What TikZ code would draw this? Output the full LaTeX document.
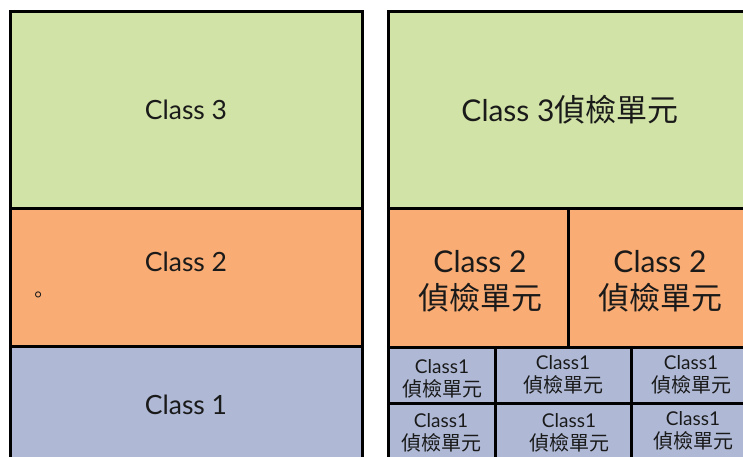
\documentclass[tikz,border=0pt]{standalone}
\usepackage{fontspec}
\setmainfont{Lato}
\newfontfamily\cjk{Noto Sans CJK TC}
\definecolor{cgreen}{HTML}{D1E3A6}
\definecolor{corange}{HTML}{F9AC74}
\definecolor{cblue}{HTML}{AFB9D6}
\definecolor{ink}{HTML}{1A1A1A}
\begin{document}
\begin{tikzpicture}[x=1pt,y=-1pt,
  cell/.style={draw=black,line width=3pt},
  lbl/.style={align=center,inner sep=0pt,text=ink},
  big/.style={font=\fontsize{26.5}{30}\selectfont},
  mid/.style={font=\fontsize{30}{37}\selectfont},
  small/.style={font=\fontsize{19}{23}\selectfont}]
\clip (0,0) rectangle (743,457);
\fill[white] (0,0) rectangle (743,457);
% left column
\path[cell,fill=cgreen] (10,12) rectangle (362,208);
\path[cell,fill=corange] (10,208) rectangle (362,346);
\path[cell,fill=cblue] (10,346) rectangle (362,470);
\node[lbl,big] (l3) at (186,110) {Class 3};
\node[lbl,big] (l2) at (186,262) {Class 2};
\node[lbl,font=\fontsize{20}{20}\selectfont] (dot) at (38,297) {\cjk 。};
\node[lbl,big] (l1) at (186,405) {Class 1};
% right column
\path[cell,fill=cgreen] (388,12) rectangle (752,208);
\path[cell,fill=corange] (388,208) rectangle (568,347);
\path[cell,fill=corange] (568,208) rectangle (752,347);
\path[cell,fill=cblue] (388,347) rectangle (495,403);
\path[cell,fill=cblue] (495,347) rectangle (631,403);
\path[cell,fill=cblue] (631,347) rectangle (752,403);
\path[cell,fill=cblue] (388,403) rectangle (495,470);
\path[cell,fill=cblue] (495,403) rectangle (631,470);
\path[cell,fill=cblue] (631,403) rectangle (752,470);
\node[lbl,mid] (r3) at (570,110) {Class 3{\fontsize{31}{37}\cjk 偵檢單元}};
\node[lbl,mid] (r2a) at (480,281) {Class 2\\{\fontsize{31}{37}\cjk 偵檢單元}};
\node[lbl,mid] (r2b) at (660,281) {Class 2\\{\fontsize{31}{37}\cjk 偵檢單元}};
\node[lbl,small] (a1) at (442,379) {Class1\\{\fontsize{20}{23}\cjk 偵檢單元}};
\node[lbl,small] (a2) at (563,375) {Class1\\{\fontsize{20}{23}\cjk 偵檢單元}};
\node[lbl,small] (a3) at (691,375) {Class1\\{\fontsize{20}{23}\cjk 偵檢單元}};
\node[lbl,small] (b1) at (441,433) {Class1\\{\fontsize{20}{23}\cjk 偵檢單元}};
\node[lbl,small] (b2) at (569,433) {Class1\\{\fontsize{20}{23}\cjk 偵檢單元}};
\node[lbl,small] (b3) at (693,431) {Class1\\{\fontsize{20}{23}\cjk 偵檢單元}};
\end{tikzpicture}
\end{document}
